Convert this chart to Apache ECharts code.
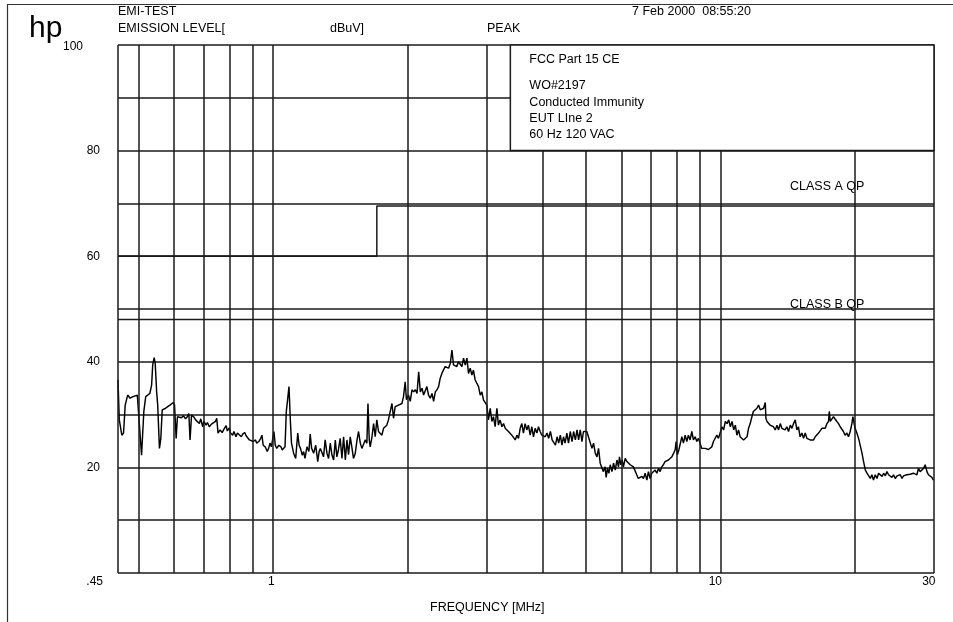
<!DOCTYPE html>
<html><head><meta charset="utf-8">
<script src="https://cdn.jsdelivr.net/npm/echarts@6/dist/echarts.min.js"></script>
<style>html,body{margin:0;padding:0;background:#fff}#c{width:953px;height:622px}</style>
</head><body><div id="c"></div>
<script>
// ---- data ----
const freqMHz = [
0.450,0.453,0.459,0.463,0.467,0.473,0.479,0.486,0.491,0.497,
0.500,0.508,0.514,0.519,0.523,0.530,0.535,0.538,0.542,0.545,
0.549,0.552,0.557,0.561,0.565,0.569,0.575,0.581,0.585,0.588,
0.594,0.598,0.602,0.607,0.611,0.617,0.624,0.630,0.637,0.643,
0.648,0.652,0.657,0.664,0.671,0.677,0.684,0.689,0.696,0.700,
0.708,0.713,0.720,0.728,0.735,0.743,0.748,0.753,0.761,0.769,
0.777,0.785,0.790,0.798,0.803,0.812,0.817,0.826,0.832,0.840,
0.849,0.855,0.864,0.870,0.876,0.885,0.894,0.903,0.913,0.919,
0.929,0.938,0.944,0.950,0.960,0.970,0.977,0.984,0.991,0.997,
1.004,1.011,1.019,1.030,1.041,1.048,1.055,1.063,1.070,1.077,
1.085,1.092,1.099,1.111,1.123,1.135,1.143,1.151,1.162,1.170,
1.178,1.190,1.202,1.210,1.219,1.232,1.245,1.258,1.267,1.275,
1.285,1.296,1.307,1.319,1.330,1.342,1.353,1.365,1.377,1.388,
1.399,1.412,1.425,1.437,1.450,1.462,1.474,1.487,1.499,1.512,
1.526,1.540,1.552,1.566,1.579,1.592,1.606,1.620,1.629,1.640,
1.648,1.663,1.677,1.691,1.705,1.720,1.735,1.750,1.765,1.780,
1.795,1.810,1.827,1.843,1.858,1.874,1.890,1.906,1.923,1.940,
1.956,1.973,1.986,2.006,2.025,2.043,2.060,2.079,2.097,2.115,
2.133,2.152,2.169,2.187,2.206,2.225,2.245,2.265,2.284,2.304,
2.324,2.343,2.363,2.383,2.402,2.424,2.446,2.466,2.488,2.510,
2.530,2.553,2.574,2.595,2.618,2.642,2.664,2.688,2.711,2.733,
2.757,2.781,2.803,2.828,2.854,2.878,2.903,2.928,2.952,2.978,
3.003,3.029,3.056,3.083,3.108,3.135,3.163,3.188,3.215,3.246,
3.273,3.301,3.330,3.357,3.386,3.416,3.445,3.476,3.506,3.535,
3.566,
3.596,3.626,3.657,3.689,3.720,3.754,3.786,3.818,3.852,3.886,
3.918,3.952,3.986,4.020,4.057,4.094,4.128,4.166,4.203,4.238,
4.275,4.312,4.347,4.384,4.421,4.456,4.493,4.534,4.573,4.615,
4.656,4.695,4.737,4.778,4.817,4.858,4.900,4.939,4.980,5.024,
5.067,5.113,5.159,5.202,5.248,5.294,5.337,5.383,5.429,5.472,
5.521,5.550,5.589,5.630,5.669,5.719,5.766,5.817,5.867,5.914,
5.944,5.985,6.026,6.067,6.122,6.176,6.227,6.282,6.336,6.387,
6.442,6.496,6.551,6.610,6.669,6.724,6.785,6.844,6.899,6.958,
7.019,7.078,7.142,7.205,7.265,7.328,7.392,7.451,7.516,7.584,
7.648,7.716,7.784,7.848,7.916,7.956,8.008,8.068,8.123,8.195,
8.263,8.335,8.407,8.475,8.550,8.626,8.698,8.775,8.851,8.923,
9.000,9.081,9.157,9.238,9.319,9.395,9.476,9.561,9.641,9.727,
9.813,9.894,9.980,10.07,10.16,
10.25,10.34,10.43,10.52,10.61,10.70,10.79,10.88,10.97,11.06,
11.16,11.26,11.36,11.46,11.55,11.65,11.75,11.84,11.95,12.06,
12.16,12.27,12.38,12.48,12.59,12.63,12.70,12.80,12.91,13.02,
13.13,13.25,13.37,13.48,13.60,13.71,13.82,13.94,14.07,14.19,
14.32,14.44,14.56,14.69,14.81,14.93,15.06,15.20,15.33,15.46,
15.60,15.73,15.86,16.00,16.14,16.28,16.43,16.56,16.70,16.85,
16.99,17.14,17.29,17.43,17.50,17.59,17.74,17.88,18.04,18.20,
18.35,18.51,18.67,18.82,18.99,19.16,19.32,19.49,19.66,19.76,
19.89,19.99,20.17,20.35,20.53,20.71,20.88,21.07,21.25,21.42,
21.61,21.79,21.97,22.17,22.37,22.56,22.76,22.96,23.15,23.35,
23.55,23.74,23.94,24.15,24.36,24.58,24.80,25.00,25.22,25.44,
25.64,25.86,26.08,26.31,26.54,26.78,27.00,27.24,27.47,27.69,
27.93,28.18,28.42,28.67,28.93,29.16,29.42,29.67,29.91
];
const levelDbuV = [
36.6,29.0,26.1,26.5,31.8,33.7,33.1,33.4,33.1,33.7,
33.8,22.3,30.6,33.4,33.7,34.0,35.6,39.4,40.8,39.7,
34.3,31.8,23.6,25.5,30.9,31.2,31.2,31.5,31.7,31.8,
31.9,32.3,31.8,25.5,29.6,29.6,29.4,29.8,29.2,29.6,
30.2,25.2,29.9,29.6,29.0,29.3,28.3,29.2,27.7,28.7,
28.0,28.5,27.7,28.2,27.9,28.7,29.3,26.5,27.1,26.6,
27.3,27.9,26.9,27.5,26.5,26.1,26.8,25.8,26.5,26.3,
25.8,26.3,26.6,26.0,26.3,25.2,25.5,24.9,25.2,24.6,
24.9,25.5,26.1,24.2,23.9,23.0,23.6,24.6,23.9,25.2,
26.8,24.2,23.6,24.2,23.9,23.3,23.1,23.9,30.6,32.8,
35.3,29.3,24.6,22.7,21.7,26.5,24.2,23.6,22.3,23.0,
21.7,23.9,23.0,26.3,23.6,22.7,24.2,21.1,23.0,23.6,
23.9,22.0,25.2,22.7,21.7,24.6,22.4,21.4,25.2,22.0,
23.3,25.5,21.7,25.8,21.4,25.2,22.4,25.8,23.9,21.7,
22.7,25.2,26.8,24.6,23.6,23.9,25.2,24.6,32.1,25.2,
23.9,25.8,28.3,25.8,29.0,26.8,26.5,26.1,27.4,27.1,
28.0,29.0,30.6,32.1,29.3,31.5,31.2,31.8,31.5,32.1,
33.4,36.2,32.8,33.7,32.5,34.7,34.3,34.7,34.0,38.1,
34.3,35.0,33.7,33.4,35.3,33.7,33.1,34.0,32.5,34.3,
34.7,35.3,36.9,37.8,37.8,39.1,39.4,38.8,39.7,42.2,
39.4,39.7,39.1,40.0,39.7,39.1,40.7,39.4,40.7,37.8,
38.8,37.5,38.4,36.6,35.9,35.3,33.7,34.3,32.8,32.5,
31.8,29.0,31.2,28.7,29.6,27.7,31.2,28.0,29.0,27.7,
28.3,27.4,27.7,26.8,27.1,26.1,25.8,25.2,26.1,25.5,
27.4,
28.3,26.5,28.3,27.1,28.0,26.1,27.7,25.8,27.4,26.5,
27.7,26.8,26.1,26.1,25.8,26.5,25.5,26.8,25.2,25.5,
24.2,25.8,24.6,26.1,24.2,25.8,24.6,26.5,24.6,26.8,
24.9,26.8,25.2,27.1,25.2,27.1,24.9,26.8,26.5,26.8,
25.8,26.1,23.6,24.6,22.7,22.0,23.6,20.8,20.5,19.2,
20.1,18.1,19.8,18.9,20.5,19.2,20.8,19.5,21.4,20.1,
22.0,20.5,21.4,20.1,21.7,21.1,21.4,20.5,20.8,20.1,
19.8,18.6,17.9,17.6,18.3,17.9,18.9,17.6,19.2,17.9,
18.9,18.6,19.5,18.9,19.8,19.2,20.1,20.5,21.1,20.8,
21.4,21.1,22.0,21.7,23.3,24.9,22.4,23.3,23.0,25.8,
24.6,26.1,24.9,26.1,25.2,26.8,25.2,25.8,24.9,25.5,
25.2,23.6,23.9,23.6,23.8,23.4,23.3,23.9,24.9,25.2,
26.1,25.5,26.5,27.7,27.1,
28.7,28.3,29.0,27.7,28.7,27.1,28.0,26.1,27.1,25.8,
26.1,25.2,25.5,25.8,27.4,28.3,29.6,30.6,30.9,31.2,
31.8,30.9,30.6,31.2,32.3,29.3,28.7,29.0,28.0,28.3,
27.7,27.1,28.0,27.1,28.3,27.4,27.7,27.1,27.7,26.8,
28.0,27.4,28.3,29.0,27.1,27.7,25.8,26.5,25.5,26.5,
25.5,25.8,25.2,25.5,25.2,25.8,25.5,26.5,26.8,27.4,
27.7,27.4,28.3,28.7,30.6,28.7,29.0,29.6,29.3,28.7,
28.3,27.7,27.4,26.8,26.1,26.5,25.8,26.8,28.3,29.6,
28.3,27.4,26.5,25.5,25.2,22.7,21.1,19.5,18.9,18.6,
17.9,18.6,17.6,18.6,17.9,18.9,18.6,18.3,18.9,18.4,
19.2,18.6,18.9,18.1,18.6,17.9,18.4,18.1,18.6,17.9,
18.4,18.1,18.6,18.4,18.7,18.6,18.9,19.0,18.6,19.8,
19.2,19.5,19.8,20.5,19.2,18.6,18.4,18.1,17.6
];
const classAFreq  = [0.45, 1.705, 1.705, 30];
const classALevel = [60, 60, 69.5, 69.5];
const classBFreq  = [0.45, 30];
const classBLevel = [48, 48];
const gridFreqs = [0.45,0.5,0.6,0.7,0.8,0.9,1,2,3,4,5,6,7,8,9,10,20,30];
const xTickValues = [0.45, 1, 10, 30];
const xTickLabels = ['.45', '1', '10', '30'];
const yTickValues = [20, 40, 60, 80, 100];
const boxFreqRange = [3.39, 30];
const boxLevelRange = [80, 100];
const boxLines = ['FCC Part 15 CE', 'WO#2197', 'Conducted Immunity', 'EUT LIne 2', '60 Hz 120 VAC'];

const FONT = '"Liberation Sans", Arial, Helvetica, sans-serif';
const INK = '#1a1a1a';
const chart = echarts.init(document.getElementById('c'), null, {renderer: 'canvas'});

const option = {
  animation: false,
  backgroundColor: '#fff',
  grid: {left: 118, right: 19, top: 45, bottom: 49, containLabel: false},
  xAxis: {
    type: 'log', logBase: 10, min: 0.45, max: 30,
    axisLine: {show: false}, axisTick: {show: false},
    axisLabel: {show: false}, splitLine: {show: false}
  },
  yAxis: {
    type: 'value', min: 0, max: 100, interval: 10,
    axisLine: {show: false}, axisTick: {show: false},
    splitLine: {show: true, lineStyle: {color: INK, width: 1.5}},
    axisLabel: {
      margin: 18, color: '#000', fontSize: 12, fontFamily: FONT,
      formatter: v => yTickValues.indexOf(v) < 0 ? '' : (v === 100 ? '{o|100}' : String(v)),
      rich: {o: {fontSize: 12, fontFamily: FONT, color: '#000', padding: [4, 17, 0, 0]}}
    }
  },
  series: [
    {
      type: 'line', data: [[0.45, 0]], symbol: 'none', lineStyle: {opacity: 0}, silent: true,
      markLine: {
        silent: true, symbol: ['none', 'none'], label: {show: false},
        lineStyle: {color: INK, width: 1.5, type: 'solid'},
        emphasis: {disabled: true},
        data: gridFreqs.map(f => ({xAxis: f}))
      }
    },
    {
      type: 'line', silent: true, symbol: 'none',
      lineStyle: {color: INK, width: 1.5},
      data: classAFreq.map((f, i) => [f, classALevel[i]])
    },
    {
      type: 'line', silent: true, symbol: 'none',
      lineStyle: {color: INK, width: 1.5},
      data: classBFreq.map((f, i) => [f, classBLevel[i]])
    },
    {
      type: 'line', silent: true, symbol: 'none',
      lineStyle: {color: '#000', width: 1.45},
      data: freqMHz.map((f, i) => [f, levelDbuV[i]])
    }
  ]
};
chart.setOption(option);

function P(f, v) { return chart.convertToPixel({xAxisIndex: 0, yAxisIndex: 0}, [f, v]); }
function txt(x, y, s, size, align, valign, weight) {
  return {
    type: 'text', z: 120, silent: true,
    style: {x: x, y: y, text: s, font: (weight || 'normal') + ' ' + size + 'px ' + FONT, fill: '#000',
      textAlign: align || 'left', textVerticalAlign: valign || 'middle',
      align: align || 'left', verticalAlign: valign || 'middle'}
  };
}

const g = [];
// page frame
g.push({type: 'line', z: 110, silent: true, shape: {x1: 7, y1: 4.5, x2: 953, y2: 4.5}, style: {stroke: '#333', lineWidth: 1.2}});
g.push({type: 'line', z: 110, silent: true, shape: {x1: 7.5, y1: 4, x2: 7.5, y2: 622}, style: {stroke: '#333', lineWidth: 1.2}});
// header texts
g.push(txt(29, 29, 'hp', 30, 'left', 'middle'));
g.push(txt(118, 12, 'EMI-TEST', 12.5));
g.push(txt(118, 29, 'EMISSION LEVEL[', 12.5));
g.push(txt(330, 29, 'dBuV]', 12.5));
g.push(txt(487, 29, 'PEAK', 12.5));
g.push(txt(632, 12, '7 Feb 2000  08:55:20', 12.5));
// info box
const b1 = P(boxFreqRange[0], boxLevelRange[1]);
const b2 = P(boxFreqRange[1], boxLevelRange[0]);
g.push({type: 'rect', z: 100, silent: true,
  shape: {x: b1[0], y: b1[1], width: b2[0] - b1[0], height: b2[1] - b1[1]},
  style: {fill: '#fff', stroke: INK, lineWidth: 1.5}});
const boxY = [60, 86, 102.5, 118.5, 134.5];
boxLines.forEach((s, i) => g.push(txt(b1[0] + 19, boxY[i], s, 12.5)));
// limit labels
g.push(txt(790, 186.5, 'CLASS A QP', 12.5));
g.push(txt(790, 305, 'CLASS B QP', 12.5));
// x tick labels
xTickValues.forEach((v, i) => {
  const p = P(v, 0);
  const x = i === 0 ? p[0] - 15 : p[0] + 1.5;
  g.push(txt(x, p[1] + 9, xTickLabels[i], 12, 'right', 'middle'));
});
g.push(txt(430, 608, 'FREQUENCY [MHz]', 12.5));
chart.setOption({graphic: {elements: g}});
</script>
</body></html>
